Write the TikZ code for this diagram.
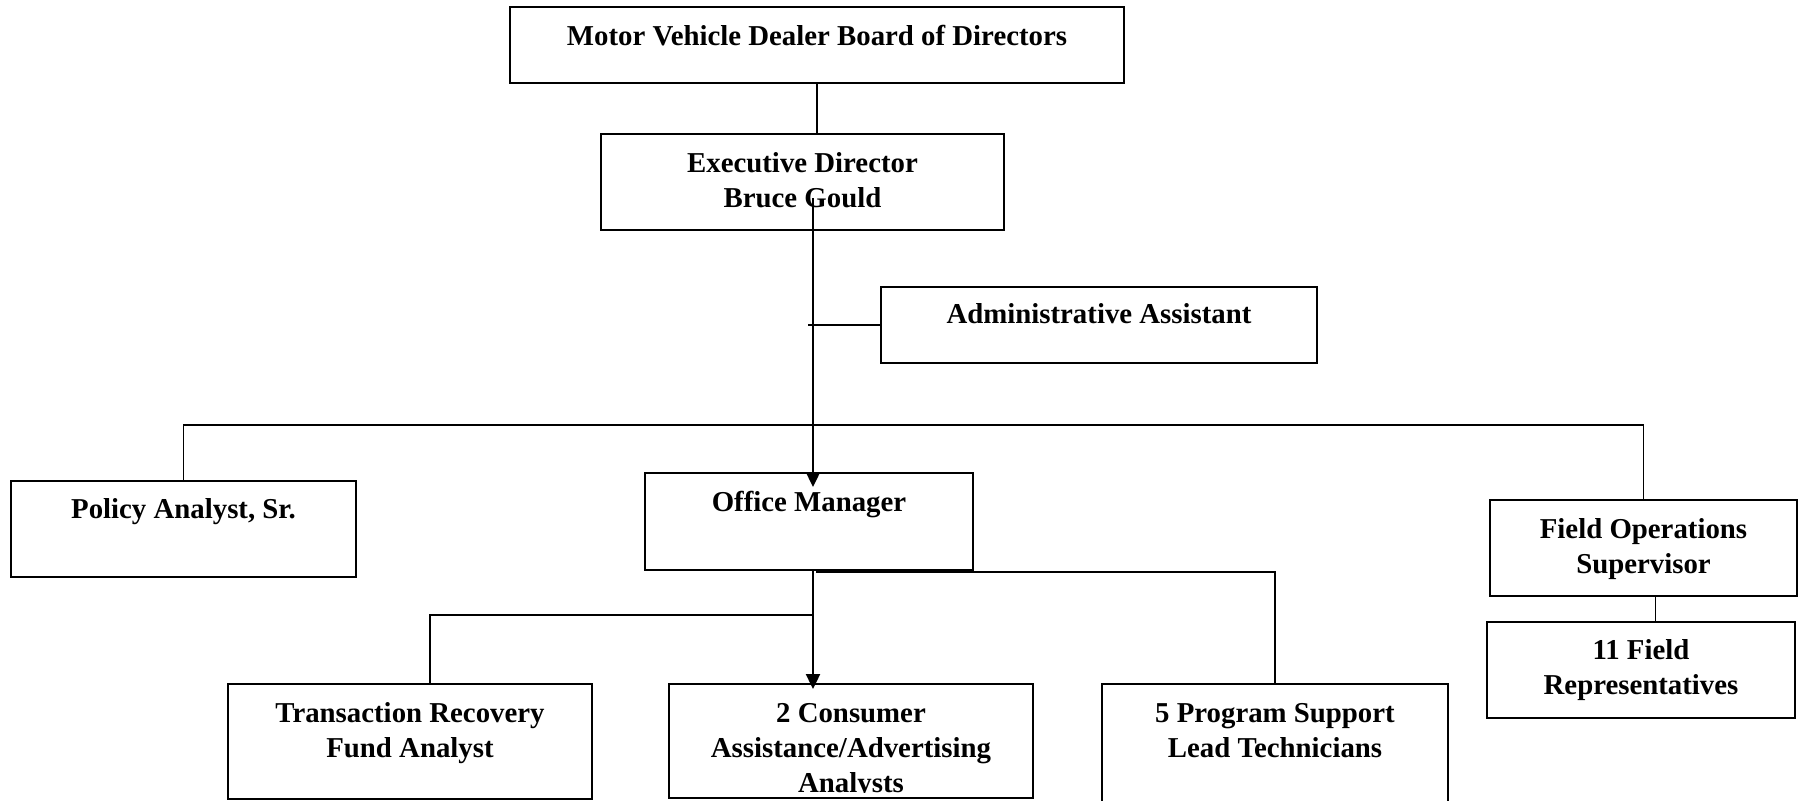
\documentclass[tikz,border=0pt]{standalone}
\usepackage{fontspec}
\setmainfont{Liberation Serif}
\usepackage{tikz}
\usetikzlibrary{calc,arrows.meta}

\newcommand{\boxfont}{\fontsize{16.4}{19.8}\selectfont\bfseries}

\begin{document}
\begin{tikzpicture}[x=0.02cm,y=-0.02cm,
    box/.style 2 args={draw,line width=1.1pt,minimum width=#1*0.02cm,minimum height=#2*0.02cm,inner sep=0pt},
    txt/.style={font=\boxfont,align=center,anchor=base,inner sep=0pt},
    link/.style={line width=1pt},
    arr/.style={line width=1pt,-{Triangle[length=8.5pt,width=8pt]}}]
  \useasboundingbox (0,0) rectangle (1802,801);
  % boxes
  \node[box={614}{76}](board)at(817,45){};
  \node[box={403}{96}](exec)at(802.5,182){};
  \node[box={436}{76}](admin)at(1099,325){};
  \node[box={345}{96}](policy)at(183.5,529){};
  \node[box={328}{97}](office)at(809,521.5){};
  \node[box={307}{96}](fos)at(1643.5,548){};
  \node[box={308}{96}](field)at(1641,670){};
  \node[box={364}{115}](trans)at(410,741.5){};
  \node[box={364}{114}](consumer)at(851,741){};
  \node[box={346}{131}](prog)at(1275,749.5){};
  % texts (base = last line)
  \node[txt](boardtxt)at($(board.north)+(0,39)$){Motor Vehicle Dealer Board of Directors};
  \node[txt](exectxt)at($(exec.north)+(0,74)$){Executive Director\\Bruce Gould};
  \node[txt](admintxt)at($(admin.north)+(0,37)$){Administrative Assistant};
  \node[txt](policytxt)at($(policy.north)+(0,38)$){Policy Analyst, Sr.};
  \node[txt](officetxt)at($(office.north)+(0,39)$){Office Manager};
  \node[txt](fostxt)at($(fos.north)+(0,74)$){Field Operations\\Supervisor};
  \node[txt](fieldtxt)at($(field.north)+(0,73)$){11 Field\\Representatives};
  \node[txt](transtxt)at($(trans.north)+(0,74)$){Transaction Recovery\\Fund Analyst};
  \begin{scope}
    \clip (consumer.north west) rectangle ($(consumer.east)+(0,51)$);
    \node[txt](consumertxt)at($(consumer.north)+(0,109)$){2 Consumer\\Assistance/Advertising\\Analysts};
  \end{scope}
  \node[txt](progtxt)at($(prog.north)+(0,74)$){5 Program Support\\Lead Technicians};
  % connectors
  \coordinate (execin) at (813,198);
  \coordinate (admtick) at (808,325);
  \coordinate (bus) at (813,425);
  \coordinate (split) at (813,615);
  \coordinate (omright) at (816,572);
  \draw[link](board.south)--(board.south|-exec.north);
  \draw[arr](execin)--($(execin|-office.north)+(0,15)$);
  \draw[link](admtick)--(admin.west);
  \draw[link](policy.north)|-(bus)-|(fos.north);
  \draw[arr](execin|-office.south)--($(execin|-consumer.north)+(0,6)$);
  \draw[link](split)-|([xshift=0.4cm]trans.north);
  \draw[link](omright)-|(prog.north);
  \draw[link]([xshift=0.24cm]fos.south)--([xshift=0.24cm]fos.south|-field.north);
\end{tikzpicture}
\end{document}
